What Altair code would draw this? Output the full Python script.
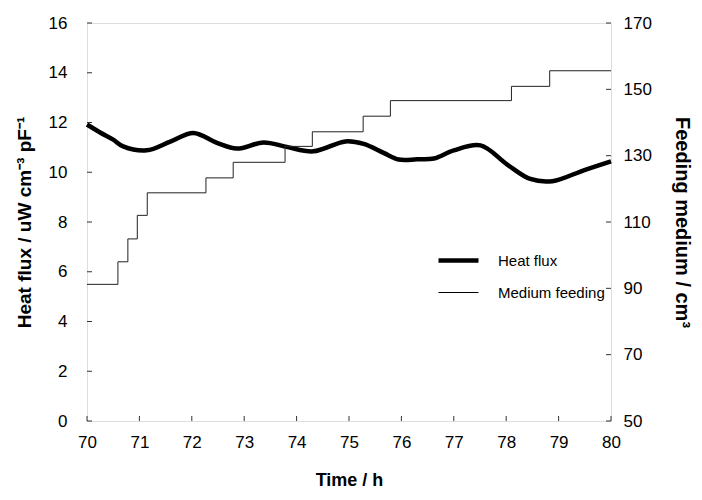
import altair as alt
import pandas as pd

# Heat flux curve (left axis)
hf_time = [70.0, 70.25, 70.5, 70.69, 71.14, 71.59, 72.03, 72.48, 72.86, 73.37, 73.81,
           74.32, 74.93, 75.28, 75.66, 75.95, 76.3, 76.62, 77.0, 77.51, 78.02, 78.46,
           78.88, 79.48, 80.0]
hf_value = [11.92, 11.6, 11.31, 11.04, 10.88, 11.23, 11.58, 11.18, 10.95, 11.2, 11.02,
            10.84, 11.24, 11.14, 10.78, 10.51, 10.52, 10.55, 10.88, 11.08, 10.31, 9.73,
            9.64, 10.08, 10.44]

# Medium feeding (right axis), step-after
mf_time = [70.0, 70.59, 70.78, 70.96, 71.15, 72.27, 72.79, 73.78, 74.30, 75.27, 75.79,
           78.10, 78.83, 80.0]
mf_value = [91.2, 98.0, 104.9, 112.0, 118.8, 123.3, 128.0, 132.8, 137.2, 141.9, 146.6,
            150.9, 155.6, 155.6]

x_ticks = list(range(70, 81))
left_ticks = list(range(0, 17, 2))
right_ticks = list(range(50, 171, 20))
series = ["Heat flux", "Medium feeding"]

W, H = 524, 398
FONT = "Liberation Sans"

hf_df = pd.DataFrame({"t": hf_time, "v": hf_value, "series": series[0]})
mf_df = pd.DataFrame({"t": mf_time, "v": mf_value, "series": series[1]})

xscale = alt.Scale(domain=[70, 80], nice=False, zero=False)
ls = alt.Scale(domain=[0, 16], nice=False)
rs = alt.Scale(domain=[50, 170], nice=False, zero=False)
sw = alt.StrokeWidth("series:N",
                     scale=alt.Scale(domain=series, range=[4.5, 1]),
                     legend=alt.Legend(title=None, orient="none", legendX=349, legendY=215,
                                       symbolType="stroke", symbolSize=1600,
                                       symbolStrokeColor="black",
                                       labelFontSize=15, labelFont=FONT, labelColor="black",
                                       labelOffset=17, rowPadding=2))

xaxis = alt.Axis(values=x_ticks, title="Time / h", labelFontSize=17, labelFont=FONT,
                 labelColor="black", titleFont=FONT, titleFontSize=18, titleFontWeight="bold",
                 titleColor="black", domain=False, ticks=False, grid=False,
                 labelFlush=False, labelPadding=13, titlePadding=21)

heat = alt.Chart(hf_df).mark_line(color="black", interpolate="catmull-rom").encode(
    x=alt.X("t:Q", scale=xscale, axis=xaxis),
    y=alt.Y("v:Q", scale=ls, axis=alt.Axis(values=left_ticks,
                                            title="Heat flux / uW cm⁻³ pF⁻¹",
                                            labelFontSize=17, labelFont=FONT, labelColor="black",
                                            titleFont=FONT, titleFontSize=19,
                                            titleFontWeight="bold", titleColor="black",
                                            domain=False, ticks=False, grid=False,
                                            labelPadding=20, titlePadding=14)),
    strokeWidth=sw,
)

medium = alt.Chart(mf_df).mark_line(color="#222222", interpolate="step-after").encode(
    x=alt.X("t:Q", scale=xscale, axis=xaxis),
    y=alt.Y("v:Q", scale=rs, axis=alt.Axis(orient="right", values=right_ticks,
                                            title="Feeding medium / cm³",
                                            labelFontSize=17, labelFont=FONT, labelColor="black",
                                            titleFont=FONT, titleFontSize=20,
                                            titleFontWeight="bold", titleColor="black",
                                            domain=False, ticks=False, grid=False,
                                            labelPadding=12, titlePadding=20)),
    strokeWidth=sw,
)

lt_df = pd.DataFrame({"v": left_ticks})
rt_df = pd.DataFrame({"v": right_ticks})
xt_df = pd.DataFrame({"t": x_ticks})

lticks = alt.Chart(lt_df).mark_rule(color="#333333", strokeWidth=1).encode(
    y=alt.Y("v:Q", scale=ls, axis=None), x=alt.value(0), x2=alt.value(5))
rticks = alt.Chart(rt_df).mark_rule(color="#333333", strokeWidth=1).encode(
    y=alt.Y("v:Q", scale=rs, axis=None), x=alt.value(W - 5), x2=alt.value(W))
xticks = alt.Chart(xt_df).mark_rule(color="#333333", strokeWidth=1).encode(
    x=alt.X("t:Q", scale=xscale, axis=xaxis), y=alt.value(H - 5), y2=alt.value(H))

chart = alt.layer(heat, lticks, xticks, medium, rticks).resolve_scale(
    y="independent"
).properties(
    width=W, height=H,
    autosize=alt.AutoSizeParams(type="none"),
    padding={"left": 79, "top": 15, "right": 83, "bottom": 71},
).configure_view(stroke="#333333", strokeWidth=1).configure(background="white")

chart.save("out.html", embed_options={"renderer": "svg", "actions": False})
